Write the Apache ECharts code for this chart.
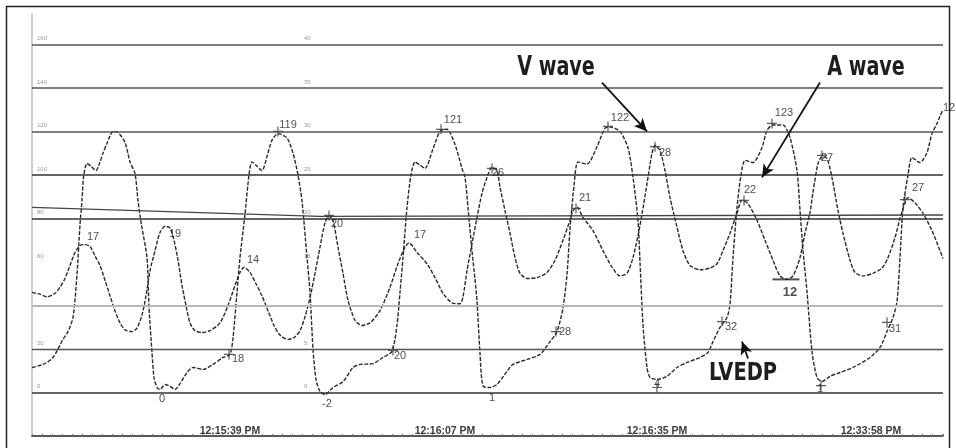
<!DOCTYPE html>
<html>
<head>
<meta charset="utf-8">
<script src="https://cdn.jsdelivr.net/npm/echarts@6/dist/echarts.min.js"></script>
<style>
html,body{margin:0;padding:0;background:#fff;}
#chart{width:956px;height:448px;}
</style>
</head>
<body>
<div id="chart"></div>
<script>
// time in ms from start of trace; LV pressure (mmHg, 0-160 scale); PCW pressure (mmHg, 0-40 scale)
const lvPressure = [
[0,11.5],[55,12.9],[105,16.1],[155,24.4],[180,28.0],[205,34.5],[225,54.3],[240,77.2],[250,88.3],[258,99.3],[275,105.3],[295,104],[320,102],[340,106],[355,110],[375,114.5],[390,118],[405,120],[430,119.5],[465,115],[490,106],[515,100.7],[530,88.3],[547,77.2],[575,62],[585,39],[600,18.4],[610,6.9],[625,2.3],[640,1.4],[665,3.7],[690,2.8],[715,1.4],[740,4],[775,9.2],[805,11.5],[855,10.6],[905,12.9],[955,16.1],[990,17.5],[1005,25],[1025,46],[1040,62],[1065,82],[1085,100],[1100,106],[1125,104],[1150,102],[1175,108.5],[1200,116],[1230,119],[1275,117],[1305,110],[1330,100],[1350,88],[1375,62],[1390,46],[1405,20],[1420,6],[1440,0.5],[1465,-1],[1505,2.3],[1555,5],[1605,11.5],[1640,12.9],[1705,13.3],[1755,16.1],[1800,18.9],[1825,31],[1840,46],[1855,62],[1875,85],[1895,100],[1915,106],[1940,104.5],[1965,103],[2005,112],[2040,120],[2075,121],[2115,114],[2150,103],[2165,99],[2180,85],[2200,65],[2215,52],[2225,42],[2240,18],[2255,3],[2290,2.3],[2325,3.7],[2375,9.7],[2405,12.9],[2475,15.2],[2540,17.5],[2590,23.4],[2625,28],[2655,39],[2675,54.3],[2690,75],[2710,95],[2730,106],[2775,105],[2825,113],[2865,121.5],[2890,122],[2940,120],[2980,112.5],[3005,99],[3030,79],[3040,60],[3055,31],[3075,11.5],[3090,6.9],[3125,6.0],[3175,7.4],[3225,11.5],[3275,13.8],[3340,16.1],[3380,18.4],[3405,23.4],[3440,29.9],[3475,34.5],[3490,40.5],[3505,62],[3525,85],[3545,100],[3565,106.7],[3605,105.7],[3650,112.6],[3675,120.5],[3705,123],[3755,123],[3790,117.2],[3825,102],[3840,83.7],[3855,65.3],[3875,46.4],[3900,18.9],[3925,6.9],[3950,5.1],[3990,7.4],[4040,9.2],[4105,11.5],[4190,16.1],[4240,20.7],[4275,28],[4305,34.5],[4325,41.8],[4340,62],[4355,85],[4380,100],[4400,108],[4440,105.7],[4475,110.3],[4500,119],[4525,123.7],[4540,127],[4555,130]
];
const pcwPressure = [
[0,11.5],[40,11.3],[75,11.0],[115,11.4],[140,12.1],[165,13.1],[190,14.6],[215,16.1],[240,16.9],[260,17.0],[290,16.8],[315,15.7],[340,14.6],[365,12.9],[390,11.1],[415,9.4],[440,8.0],[465,7.2],[500,7.0],[525,7.4],[550,8.9],[570,11.1],[590,14.0],[615,16.3],[640,18.4],[665,19.1],[690,18.9],[710,17.5],[730,15.2],[750,12.3],[770,10.0],[790,8.0],[815,7.1],[850,6.9],[890,7.1],[940,8.0],[980,10.0],[1015,12.3],[1040,13.8],[1060,14.4],[1090,13.8],[1120,12.5],[1150,11.1],[1180,9.4],[1210,7.7],[1240,6.6],[1280,6.1],[1310,6.3],[1340,7.1],[1365,8.7],[1390,10.9],[1415,13.7],[1440,16.7],[1465,19.5],[1485,20.3],[1505,19.8],[1530,16.7],[1555,13.7],[1580,10.6],[1615,8.3],[1650,7.7],[1690,8.0],[1740,9.4],[1790,12.1],[1830,14.8],[1865,16.7],[1885,17.2],[1925,16.1],[1975,14.8],[2015,13.2],[2055,11.4],[2100,10.3],[2140,10.2],[2155,11.0],[2175,14.0],[2200,17.1],[2225,20.1],[2250,22.9],[2275,24.7],[2300,25.9],[2325,25.5],[2340,23.6],[2365,20.9],[2390,18.3],[2415,15.5],[2440,13.7],[2475,13.1],[2525,13.2],[2575,13.8],[2615,15.2],[2655,17.5],[2690,19.8],[2705,20.9],[2725,21.3],[2755,20.1],[2805,18.6],[2855,16.3],[2900,14.4],[2940,13.4],[2975,13.7],[3005,15.5],[3040,19.2],[3075,24.0],[3100,27.5],[3115,28.4],[3140,27.8],[3165,25.5],[3190,22.4],[3225,19.0],[3255,16.3],[3290,14.6],[3340,14.1],[3390,14.3],[3425,14.8],[3455,16.3],[3490,18.3],[3525,20.6],[3550,22.1],[3580,21.7],[3625,19.8],[3665,17.5],[3705,15.2],[3740,13.4],[3775,13.0],[3805,13.4],[3840,15.5],[3865,18.3],[3890,20.7],[3905,23.0],[3930,26.3],[3950,27.1],[3975,26.9],[4000,24.7],[4030,20.9],[4055,18.3],[4090,15.2],[4115,13.8],[4155,13.4],[4205,13.7],[4250,14.3],[4280,15.5],[4315,17.8],[4340,20.0],[4365,21.8],[4380,22.4],[4415,21.8],[4455,20.6],[4500,18.6],[4540,16.3],[4555,15.4]
];
const gridLevels = [0, 20, 40, 80, 100, 120, 140, 160];
const lvTickLabels = [160, 140, 120, 100, 80, 60, 20, 0];
const pcwTickLabels = [40, 35, 30, 25, 20, 15, 5, 0];
const timeTickValues = [990, 2065, 3125, 4195];
const timeTickLabels = ['12:15:39 PM', '12:16:07 PM', '12:16:35 PM', '12:33:58 PM'];
// numeric readouts written on the tracing [time, LV-scale value, text]
const valueLabels = [
[1280,122.8,'119'],[2105,125.1,'121'],[2940,126.4,'122'],[3760,128.3,'123'],[4585,130.6,'12'],
[650,-2.8,'0'],[1475,-5.5,'-2'],[2300,-2.3,'1'],[3125,3.7,'4'],[3940,1.8,'1'],
[1030,15.2,'18'],[1840,16.6,'20'],[2665,27.6,'28'],[3495,29.9,'32'],[4315,29.0,'31'],
[305,71.7,'17'],[715,73.1,'19'],[1105,61.1,'14'],[1525,77.7,'20'],[1940,72.2,'17'],
[2330,101.1,'26'],[2765,89.2,'21'],[3165,109.9,'28'],[3590,92.9,'22'],[3975,107.6,'27'],[4430,93.8,'27']
];
const minLabel = [[3790,46.0,'12']];
const minBar = [[3770,52.0]];
const markerPoints = [
[1230,120],[2045,121],[2880,122.3],[3700,123.7],
[985,17.5],[1805,19.3],[2620,28],[3450,32.6],[4275,32.2],
[3125,2.3],[3945,3.2],
[2300,103],[2720,84.6],[3115,113],[3560,88.3],[3950,109],[4365,88.7],[1485,81.4]
];
const notes = [[2620,149,'V wave'],[4170,149,'A wave'],[3555,8.7,'LVEDP']];
const arrows = [
[[2850,142.5],[3075,120]],
[[3940,142.5],[3650,98.9]],
[[3580,15.6],[3550,23.4]]
];
const skewLine = [[0,85.1],[1440,81.0],[4555,81.6]];

const gridColors = {0:'#333',20:'#555',40:'#b8b8b8',80:'#333',100:'#333',120:'#555',140:'#555',160:'#555'};
const gridWidths = {0:1.6,20:1.4,40:2,80:1.6,100:1.6,120:1.6,140:1.5,160:1.5};

const chart = echarts.init(document.getElementById('chart'));

const markLineData = [];
gridLevels.forEach(v => markLineData.push({yAxis: v, lineStyle: {color: gridColors[v], width: gridWidths[v], type: 'solid'}}));
for (let i = 0; i < skewLine.length - 1; i++) {
  markLineData.push([{coord: skewLine[i], lineStyle: {color: '#444', width: 1.3, type: 'solid'}}, {coord: skewLine[i+1]}]);
}
arrows.forEach(a => markLineData.push([
  {coord: a[0], symbol: 'none', lineStyle: {color: '#111', width: 1.8, type: 'solid'}},
  {coord: a[1], symbol: 'arrow', symbolSize: [9, 13]}
]));

const traceStyle = {color: '#2a2a2a', width: 1.4, type: [4, 1.6]};
const numFont = '"Liberation Sans", Arial, sans-serif';
const boldFont = '"DejaVu Sans Condensed", "DejaVu Sans", sans-serif';

chart.setOption({
  animation: false,
  backgroundColor: '#fff',
  grid: {left: 32, right: 13, top: 14, bottom: 12, containLabel: false},
  xAxis: {
    type: 'value', min: 0, max: 4555, interval: 50,
    axisLine: {show: true, onZero: false, lineStyle: {color: '#222', width: 1.6}},
    axisTick: {show: true, inside: true, length: 2, lineStyle: {color: '#777', width: 1}},
    axisLabel: {
      show: true, inside: true, margin: -1,
      customValues: timeTickValues,
      formatter: v => { const i = timeTickValues.indexOf(v); return i >= 0 ? timeTickLabels[i] : ''; },
      fontSize: 10.5, fontWeight: 'bold', color: '#3a3a3a', fontFamily: numFont
    },
    splitLine: {show: false}
  },
  yAxis: [
    {
      type: 'value', min: -20, max: 174, interval: 20,
      axisLine: {show: true, onZero: false, lineStyle: {color: '#bdbdbd', width: 1.5}},
      axisTick: {show: false},
      splitLine: {show: false},
      axisLabel: {
        inside: true, margin: 5, verticalAlign: 'bottom', padding: [0, 0, 3, 0],
        fontSize: 6, color: '#999', fontFamily: numFont,
        formatter: v => lvTickLabels.indexOf(v) >= 0 ? String(v) : ''
      }
    },
    {
      type: 'value', min: -5, max: 43.5, interval: 5, position: 'left', offset: -270,
      axisLine: {show: false, onZero: false}, axisTick: {show: false}, splitLine: {show: false},
      axisLabel: {
        inside: true, margin: 2, verticalAlign: 'bottom', padding: [0, 0, 3, 0],
        fontSize: 6, color: '#999', fontFamily: numFont,
        formatter: v => pcwTickLabels.indexOf(v) >= 0 ? String(v) : ''
      }
    }
  ],
  graphic: [{
    type: 'rect', silent: true, z: -1,
    shape: {x: 6.5, y: 6.5, width: 943, height: 470},
    style: {fill: 'none', stroke: '#222', lineWidth: 1.5}
  }],
  series: [
    {
      name: 'LV', type: 'line', yAxisIndex: 0, data: lvPressure, showSymbol: false,
      smooth: 0.25, lineStyle: traceStyle, z: 3,
      markLine: {silent: true, symbol: 'none', label: {show: false}, animation: false, data: markLineData}
    },
    {
      name: 'PCW', type: 'line', yAxisIndex: 1, data: pcwPressure, showSymbol: false,
      smooth: 0.25, lineStyle: traceStyle, z: 3
    },
    {
      name: 'marks', type: 'scatter', yAxisIndex: 0, data: markerPoints, silent: true, z: 4,
      symbol: 'path://M0,4.4h10v1.2h-10z M4.4,0h1.2v10h-1.2z', symbolSize: [10, 10],
      itemStyle: {color: '#333'}
    },
    {
      name: 'minbar', type: 'scatter', yAxisIndex: 0, data: minBar, silent: true, z: 4,
      symbol: 'rect', symbolSize: [27, 2], itemStyle: {color: '#222'}
    },
    {
      name: 'values', type: 'scatter', yAxisIndex: 0, silent: true, z: 5, clip: false,
      symbolSize: 1, itemStyle: {color: 'rgba(0,0,0,0)'},
      data: valueLabels.map(d => ({value: [d[0], d[1]], name: d[2]})),
      label: {show: true, position: 'inside', formatter: p => p.name, fontSize: 11, color: '#222', fontFamily: numFont}
    },
    {
      name: 'minlabel', type: 'scatter', yAxisIndex: 0, silent: true, z: 5,
      symbolSize: 1, itemStyle: {color: 'rgba(0,0,0,0)'},
      data: minLabel.map(d => ({value: [d[0], d[1]], name: d[2]})),
      label: {show: true, position: 'inside', formatter: p => p.name, fontSize: 13, fontWeight: 'bold', color: '#222', fontFamily: numFont}
    },
    {
      name: 'notes', type: 'custom', yAxisIndex: 0, silent: true, z: 6, clip: false,
      data: notes.map(d => ({value: [d[0], d[1]], name: d[2]})),
      encode: {x: 0, y: 1},
      renderItem: (params, api) => {
        const pt = api.coord([api.value(0), api.value(1)]);
        const txt = notes[params.dataIndex][2];
        const isL = txt === 'LVEDP';
        return {
          type: 'text', x: pt[0], y: pt[1], scaleX: isL ? 0.9 : 0.79,
          style: {
            text: txt, fill: '#1e1e1e', align: 'center', verticalAlign: 'middle',
            font: 'bold ' + (isL ? 24 : 27) + 'px ' + boldFont
          }
        };
      }
    }
  ]
});
</script>
</body>
</html>
